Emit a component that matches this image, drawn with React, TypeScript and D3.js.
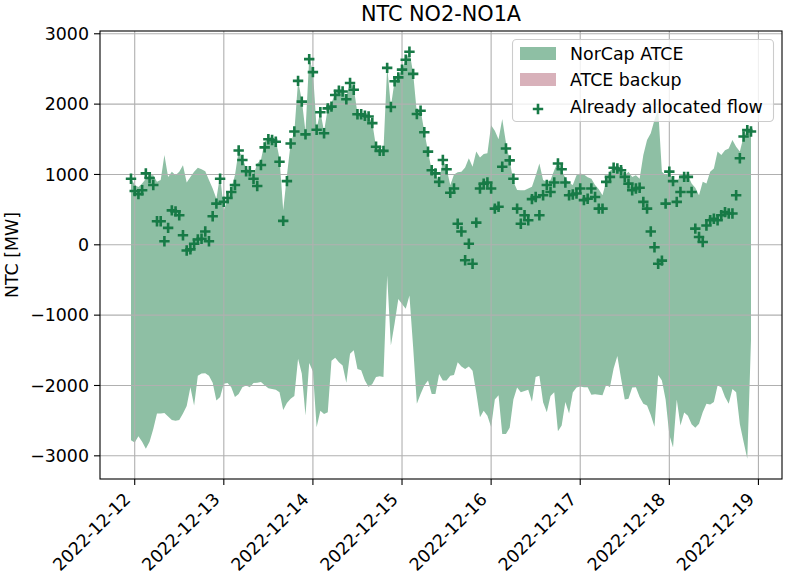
import React from "react";
import * as d3 from "d3";

const START = Date.UTC(2022, 11, 11, 23, 0, 0);
const HOUR = 3600 * 1000;

const upper: number[] = [
  950, 850, 820, 870, 940, 990, 990, 895, 920, 1275, 965, 1040,
  990, 1040, 1130, 885, 965, 1040, 1095, 1075, 1045, 920, 800, 655,
  990, 490, 630, 800, 990, 1340, 1250, 1085, 1060, 990, 1155, 1205,
  1465, 1515, 1540, 1490, 1230, 490, 990, 1440, 1610, 2330, 2060, 1610,
  2655, 2465, 1655, 1895, 1610, 1940, 2015, 2155, 2205, 2205, 2110, 2300,
  2230, 1870, 1870, 1845, 1825, 1730, 1395, 1345, 1345, 2535, 1965, 2330,
  2395, 2490, 2630, 2750, 2440, 1870, 1920, 1610, 1325, 1060, 1015, 895,
  1205, 1085, 850, 1000, 1030, 1040, 1100, 1230, 1110, 1325, 1240, 1290,
  1300, 1700, 1620, 1500, 1790, 1450, 1200, 900, 780, 775, 775, 800,
  825, 980, 1155, 920, 895, 920, 1060, 1180, 1060, 950, 880, 850,
  990, 1015, 1000, 960, 940, 850, 790, 705, 900, 1050, 1100, 1110,
  1085, 990, 1040, 965, 990, 940, 1275, 1490, 1585, 1775, 1930, 1040,
  990, 1040, 920, 885, 990, 990, 990, 870, 810, 705, 895, 870,
  1040, 1085, 1325, 1275, 1345, 1370, 1490, 1395, 1325, 1540, 1630, 1655,
];

const lower: number[] = [
  -2780, -2810, -2720, -2800, -2900, -2800, -2620, -2400, -2400, -2390, -2440, -2490,
  -2500, -2490, -2400, -2290, -2025, -2285, -1860, -1830, -1825, -1860, -1960, -2215,
  -2165, -1975, -1965, -2025, -2165, -2120, -2025, -2000, -2025, -1965, -1960, -1950,
  -1995, -2040, -2050, -2060, -2095, -2350, -2250, -2190, -2150, -1620, -1830, -2425,
  -1680, -1800, -2595, -2360, -2405, -2380, -1650, -1605, -1670, -1715, -1960, -1550,
  -1500, -1765, -1785, -1930, -2020, -1980, -1880, -1870, -1880, -435, -1430, -1120,
  -770, -840, -910, -720, -1455, -2260, -2120, -2000, -1930, -2120, -2120, -1835,
  -1930, -1930, -1860, -1850, -1670, -1730, -1765, -1730, -1790, -2100, -2450, -2360,
  -2430, -2590, -2200, -2140, -2690, -2690, -2600, -2200, -2030, -2095, -2080, -2060,
  -2230, -1880, -1860, -2240, -2380, -2150, -2095, -2650, -2570, -2235, -2400, -2100,
  -2030, -2015, -2025, -2025, -2130, -2125, -2130, -2140, -1990, -2025, -1760, -1580,
  -1900, -2200, -2190, -2030, -2025, -2165, -2260, -2285, -2420, -2585, -1850, -1930,
  -2200, -2700, -2880, -2200, -2570, -2385, -2430, -2550, -2600, -2545, -2380, -2260,
  -2270, -2235, -2000, -2025, -2165, -2260, -2050, -2095, -2550, -2800, -3040, -1350,
];

const flow: number[] = [
  940, 765, 720, 775, 1015, 950, 850, 335, 335, 50, 240, 490,
  475, 420, 135, -80, -65, 15, 75, 85, 190, 50, 405, 585,
  940, 610, 665, 750, 850, 1340, 1205, 1045, 1045, 940, 835, 1135,
  1385, 1500, 1490, 1465, 1180, 340, 905, 1440, 1610, 2330, 2035, 1570,
  2640, 2455, 1635, 1885, 1585, 1940, 1965, 2130, 2190, 2180, 2070, 2300,
  2205, 1855, 1855, 1835, 1825, 1730, 1395, 1335, 1335, 2515, 1960, 2325,
  2380, 2490, 2630, 2745, 2430, 1860, 1905, 1600, 1325, 1060, 1015, 895,
  1205, 1075, 740, 800, 300, 190, -220, 15, -270, 315, 800, 870,
  885, 800, 515, 540, 1110, 1370, 1200, 940, 515, 300, 420, 350,
  650, 680, 420, 705, 850, 750, 885, 1155, 1075, 885, 705, 715,
  730, 800, 635, 655, 800, 680, 515, 515, 895, 965, 1095, 1085,
  1060, 965, 870, 775, 800, 810, 610, 515, 190, -35, -270, -225,
  585, 1040, 905, 610, 750, 965, 965, 750, 230, 110, 40, 275,
  350, 370, 350, 420, 465, 445, 445, 705, 1230, 1540, 1630, 1610,
];

const yTicks: number[] = [-3000, -2000, -1000, 0, 1000, 2000, 3000];
const title = "NTC NO2-NO1A";
const yLabel = "NTC [MW]";
const legendLabels = ["NorCap ATCE", "ATCE backup", "Already allocated flow"];

const W = 785;
const H = 579;
const M = { left: 100, right: 782, top: 31, bottom: 479 };
const FONT = "DejaVu Sans, sans-serif";
const GREEN = "#8ebfa4";
const PINK = "#d8b1ba";
const MARK = "#177a46";

export default function App() {
  const times = upper.map((_, i) => new Date(START + i * HOUR));
  const t0 = +times[0];
  const t1 = +times[times.length - 1];
  const xPad = (t1 - t0) * 0.05;
  const x = d3
    .scaleUtc()
    .domain([new Date(t0 - xPad), new Date(t1 + xPad)])
    .range([M.left, M.right]);

  const yMax = Math.max(d3.max(upper)!, d3.max(flow)!);
  const yMin = Math.min(d3.min(lower)!, d3.min(flow)!);
  const yPad = (yMax - yMin) * 0.05;
  const y = d3
    .scaleLinear()
    .domain([yMin - yPad, yMax + yPad])
    .range([M.bottom, M.top]);

  const area = d3
    .area<number>()
    .x((_, i) => x(times[i]))
    .y0((_, i) => y(lower[i]))
    .y1((d) => y(d));

  const xTicks = d3.utcDay.range(
    new Date(Date.UTC(2022, 11, 12)),
    new Date(Date.UTC(2022, 11, 20))
  );
  const fmt = d3.utcFormat("%Y-%m-%d");
  const fs = 17.4;

  const plus = "M-5.2,0H5.2M0,-5.2V5.2";

  return (
    <svg width={W} height={H} style={{ display: "block", position: "absolute", left: 0, top: 0 }} fontFamily={FONT}>
      <rect width={W} height={H} fill="#fff" />
      <path d={area(upper)!} fill={GREEN} stroke="none" />
      {/* grid */}
      <g stroke="#b0b0b0" strokeWidth={1.1}>
        {xTicks.map((t, i) => (
          <line key={"gx" + i} x1={x(t)} x2={x(t)} y1={M.top} y2={M.bottom} />
        ))}
        {yTicks.map((v, i) => (
          <line key={"gy" + i} x1={M.left} x2={M.right} y1={y(v)} y2={y(v)} />
        ))}
      </g>
      {/* markers */}
      <g stroke={MARK} strokeWidth={2.6} fill="none">
        {flow.map((v, i) => (
          <path key={"p" + i} d={plus} transform={`translate(${x(times[i])},${y(v)})`} />
        ))}
      </g>
      {/* spines */}
      <rect x={M.left} y={M.top} width={M.right - M.left} height={M.bottom - M.top} fill="none" stroke="#000" strokeWidth={1.1} />
      {/* y ticks */}
      {yTicks.map((v, i) => (
        <g key={"yt" + i}>
          <line x1={M.left - 6} x2={M.left} y1={y(v)} y2={y(v)} stroke="#000" strokeWidth={1.1} />
          <text x={M.left - 11} y={y(v)} dy="0.35em" textAnchor="end" fontSize={fs} fill="#000">
            {v < 0 ? "\u2212" + Math.abs(v) : String(v)}
          </text>
        </g>
      ))}
      {/* x ticks */}
      {xTicks.map((t, i) => {
        const px = x(t);
        const ax = px - 3;
        const ay = M.bottom + 12 + 9.5;
        return (
          <g key={"xt" + i}>
            <line x1={px} x2={px} y1={M.bottom} y2={M.bottom + 6} stroke="#000" strokeWidth={1.1} />
            <text x={ax} y={ay} textAnchor="end" fontSize={fs} fill="#000" transform={`rotate(-45,${ax},${ay})`}>
              {fmt(t)}
            </text>
          </g>
        );
      })}
      {/* title */}
      <text x={(M.left + M.right) / 2} y={21} textAnchor="middle" fontSize={20.8} fill="#000">
        {title}
      </text>
      <text transform={`translate(18,${(M.top + M.bottom) / 2}) rotate(-90)`} textAnchor="middle" fontSize={fs} fill="#000">
        {yLabel}
      </text>
      {/* legend */}
      <g>
        <rect x={512.5} y={39.5} width={261} height={82} rx={4} fill="#fff" fillOpacity={0.8} stroke="#cccccc" strokeWidth={1.1} />
        <rect x={520} y={47} width={36} height={13} fill={GREEN} />
        <rect x={520} y={73} width={36} height={13} fill={PINK} />
        <path d={plus} transform="translate(538,109)" stroke={MARK} strokeWidth={2.6} fill="none" />
        {legendLabels.map((l, i) => (
          <text key={"lg" + i} x={570} y={53.5 + i * 26.5} dy="0.35em" fontSize={fs} fill="#000">
            {l}
          </text>
        ))}
      </g>
    </svg>
  );
}
